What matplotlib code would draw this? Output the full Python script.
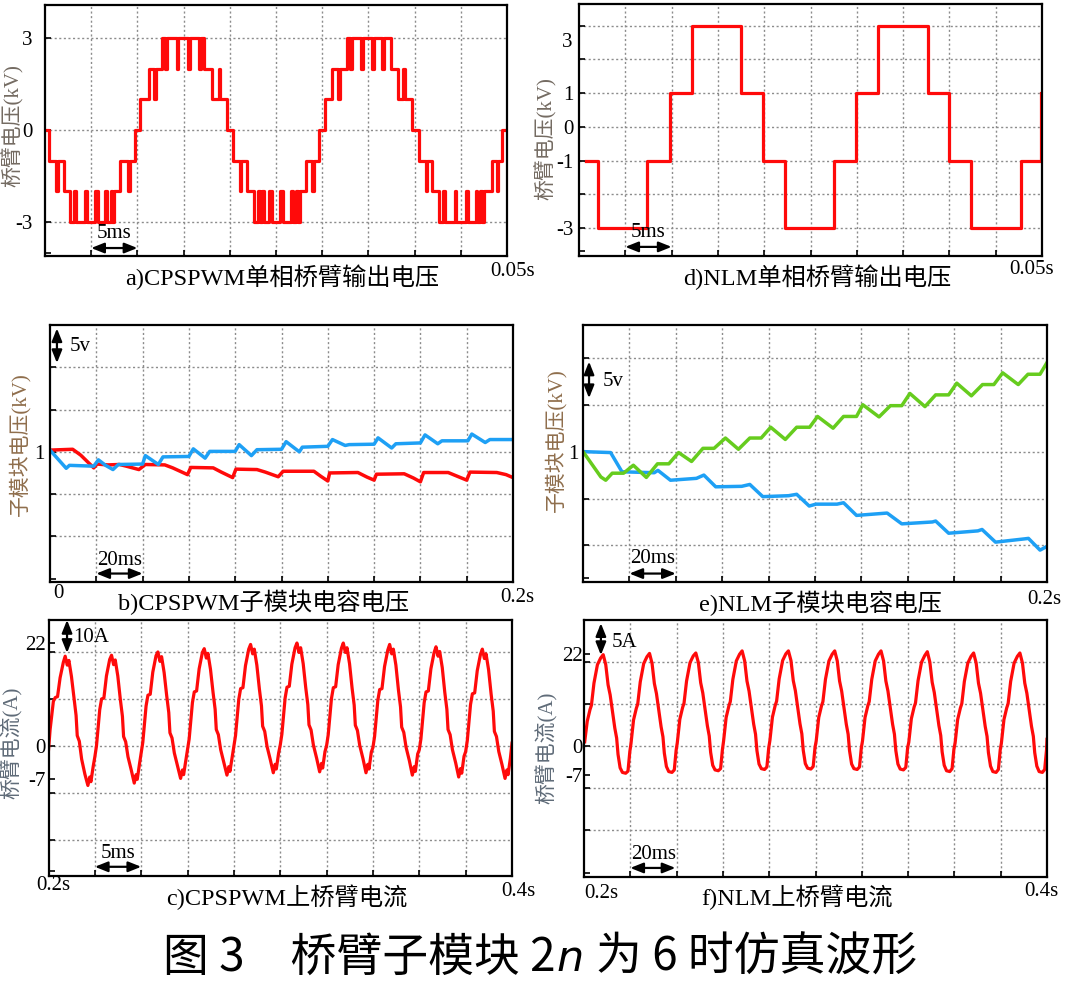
import matplotlib
matplotlib.use("Agg")
import matplotlib.pyplot as plt

# ======================= DATA =======================
# a) CPSPWM single-phase arm output voltage: switching instants (ms) / level (kV)
a_t_ms = [0, 0.45, 1.22, 1.40, 2.03, 2.73, 3.15, 3.36, 4.37, 4.55, 5.45, 5.70, 6.50, 6.71, 7.10, 7.27, 7.45, 8.15, 9.02, 9.20, 9.72,
          10.24, 11.29, 11.82, 11.99, 12.69, 13.04, 13.25, 14.27, 14.44, 15.49, 15.66, 16.71, 16.89, 17.24, 18.11, 18.81, 18.99, 19.69,
          20.38, 21.08, 21.26, 21.89, 22.66, 23.00, 23.25, 23.53, 23.71, 24.23, 24.58, 25.45, 25.80, 26.61, 26.85, 27.13, 27.38, 27.55, 28.25, 28.85, 29.06, 29.65,
          30.35, 31.05, 31.75, 31.92, 32.69, 33.04, 33.25, 34.20, 34.45, 35.42, 35.66, 36.47, 36.71, 37.45, 38.15, 38.74, 38.92, 39.69,
          40.49, 41.19, 41.36, 41.89, 42.69, 43.11, 43.29, 44.34, 44.51, 45.56, 45.73, 46.61, 46.78, 47.13, 47.31, 47.48, 48.36, 48.90, 49.05, 49.45]
a_level_kv = [0, -1, -2, -1, -2, -3, -2, -3, -2, -3, -2, -3, -2, -3, -2, -3, -2, -1, -2, -1, 0,
              1, 2, 1, 2, 3, 2, 3, 2, 3, 2, 3, 2, 3, 2, 1, 2, 1, 0,
              -1, -2, -1, -2, -3, -2, -3, -2, -3, -2, -3, -2, -3, -2, -3, -2, -3, -2, -1, -2, -1, 0,
              1, 2, 1, 2, 3, 2, 3, 2, 3, 2, 3, 2, 3, 2, 1, 2, 1, 0,
              -1, -2, -1, -2, -3, -2, -3, -2, -3, -2, -3, -2, -3, -2, -3, -2, -1, -2, -1, 0]
a_end_ms = 50.0

# d) NLM single-phase arm output voltage
d_t_ms = [0.8, 2.05, 7.39, 9.80, 12.15, 17.48, 19.83, 22.24, 27.58, 29.89, 32.26, 37.64, 40.01, 42.36, 47.69, 49.9]
d_level_kv = [-1, -3, -1, 1, 3, 1, -1, -3, -1, 1, 3, 1, -1, -3, -1, 1]

# b) CPSPWM sub-module capacitor voltage (deviation from 1 kV, in V)
SM_NOMINAL_V = 1000.0
b_blue_t = [0, 7, 8.4, 18.9, 20.9, 24, 27.2, 29.5, 40, 41.2, 46.8, 48.8, 60, 61.9, 67, 69, 80, 81.7, 87, 89.4,
            100, 102, 107.7, 109, 120, 122, 127.5, 129.2, 140, 141.7, 147.6, 149.4, 160, 162, 167.5, 169.3,
            180.5, 182.2, 188, 190, 200]
b_blue_dv = [0.2, -1.95, -1.6, -1.7, -0.95, -1.6, -2.1, -1.5, -1.45, -0.45, -1.5, -0.6, -0.55, 0.35, -0.75, 0.05,
             0.05, 0.85, -0.45, 0.25, 0.3, 1.2, 0.0, 0.55, 0.65, 1.45, 0.75, 0.85, 0.9, 1.65, 0.45, 0.95, 1.05,
             2.0, 0.95, 1.3, 1.3, 2.1, 1.1, 1.45, 1.45]
b_red_t = [0, 9.8, 13.3, 18.9, 20.3, 25, 30, 33, 38.4, 41.2, 49.6, 53, 59.4, 60.8, 70.5, 74, 78.9, 80.3, 89.4, 93,
           98.6, 100.7, 114, 117, 120, 120.8, 133, 137, 140, 141, 153, 157, 160, 161.4, 172, 176, 180, 181.4,
           193, 197, 200]
b_red_dv = [0.2, 0.3, -0.4, -1.9, -1.45, -1.55, -1.5, -1.7, -2.1, -1.5, -1.55, -1.9, -2.7, -1.85, -1.9, -2.4,
            -3.05, -2.05, -2.1, -2.4, -2.95, -2.3, -2.3, -2.9, -3.45, -2.5, -2.45, -3.0, -3.35, -2.65, -2.6,
            -3.1, -3.55, -2.45, -2.45, -2.9, -3.35, -2.4, -2.45, -2.7, -3.05]

# e) NLM sub-module capacitor voltage (deviation from 1 kV, in V)
e_green_t = [0, 7.7, 9.8, 12.6, 17.5, 21.7, 27.3, 32.1, 37, 41.2, 46.8, 51.7, 56.5, 61.4, 67, 71.9, 76.8, 80.9,
             87.2, 92.1, 97.7, 101.1, 107.8, 112.3, 117.9, 120.6, 127.6, 132.5, 137.4, 140.9, 147.4, 152, 157.6,
             161.1, 167.4, 172.2, 177.1, 180.9, 187.6, 191.8, 197, 200]
e_green_dv = [0, -2.7, -3.05, -2.3, -2.3, -1.45, -2.75, -1.3, -1.3, -0.1, -1.05, 0.35, 0.35, 1.45, 0.25, 1.45,
              1.45, 2.6, 1.3, 2.6, 2.6, 3.75, 2.5, 3.75, 3.75, 5.0, 3.7, 4.9, 4.9, 6.2, 4.8, 6.05, 6.05, 7.3,
              5.95, 7.15, 7.15, 8.4, 7.15, 8.25, 8.25, 9.5]
e_blue_t = [0, 11.9, 16.8, 30.7, 32.3, 37.7, 48.9, 52.1, 57.2, 68.4, 71.9, 77.5, 88.6, 92.1, 97.5, 100.4, 109.5,
            112.3, 117.9, 131.1, 137.4, 150.6, 152, 157.6, 170.2, 172, 177.8, 190.4, 192, 197, 200]
e_blue_dv = [0, -0.1, -2.15, -2.25, -2.0, -3.05, -2.85, -2.5, -3.75, -3.7, -3.5, -4.8, -4.7, -4.55, -5.8, -5.6,
             -5.6, -5.45, -6.8, -6.55, -7.7, -7.5, -7.4, -8.7, -8.45, -8.3, -9.65, -9.3, -9.25, -10.5, -10.1]

# c) CPSPWM upper arm current (A): sample phases within each 20 ms cycle
c_cycle_start_ms = [200, 220, 240, 260, 280, 300, 320, 340, 360, 380]
c_phase_ms = [0.0, 0.7, 2.1, 2.9, 3.9, 5.0, 6.4, 7.2, 8.1, 8.8, 9.9, 11.0, 11.9, 12.4, 13.3, 14.3, 15.7, 17.0, 17.8, 18.3, 19.3]
c_cycles_a = [
    [-0.9, 3.5, 9.5, 10.3, 10.5, 14.5, 17.8, 19.1, 17.2, 18.2, 14.8, 10.3, 6.5, 2.2, 1.0, -2.8, -6.0, -8.4, -6.6, -7.6, -4.3],
    [-2.3, 0.0, 7.7, 10.0, 10.2, 14.9, 18.4, 19.3, 17.3, 18.3, 14.9, 9.9, 6.3, 2.0, 0.9, -2.3, -5.1, -7.9, -6.1, -7.1, -3.7],
    [-1.5, 0.8, 8.5, 10.8, 11.0, 15.7, 19.2, 20.0, 18.0, 19.0, 15.6, 10.7, 7.1, 2.8, 1.7, -1.5, -4.3, -6.9, -5.1, -6.1, -2.9],
    [-0.8, 1.5, 9.2, 11.5, 11.7, 16.4, 19.9, 20.7, 18.7, 19.7, 16.3, 11.4, 7.8, 3.5, 2.4, -0.8, -3.6, -6.2, -4.4, -5.4, -2.2],
    [-0.1, 2.2, 9.9, 12.2, 12.4, 17.1, 20.6, 21.6, 19.6, 20.6, 17.2, 12.1, 8.5, 4.2, 3.1, -0.1, -2.9, -5.7, -3.9, -4.9, -1.5],
    [0.2, 2.5, 10.2, 12.5, 12.7, 17.4, 20.9, 21.9, 19.9, 20.9, 17.5, 12.4, 8.8, 4.5, 3.4, 0.2, -2.6, -5.5, -3.7, -4.7, -1.2],
    [0.1, 2.4, 10.1, 12.4, 12.6, 17.3, 20.8, 21.9, 19.9, 20.9, 17.5, 12.3, 8.7, 4.4, 3.3, 0.1, -2.7, -5.7, -3.9, -4.9, -1.3],
    [-0.3, 2.0, 9.7, 12.0, 12.2, 16.9, 20.4, 21.6, 19.6, 20.6, 17.2, 11.9, 8.3, 4.0, 2.9, -0.3, -3.1, -6.2, -4.4, -5.4, -1.7],
    [-0.8, 1.5, 9.2, 11.5, 11.7, 16.4, 19.9, 21.1, 19.1, 20.1, 16.7, 11.4, 7.8, 3.5, 2.4, -0.8, -3.6, -6.6, -4.8, -5.8, -2.2],
    [-1.2, 1.1, 8.8, 11.1, 11.3, 16.0, 19.5, 20.6, 18.6, 19.6, 16.2, 11.0, 7.4, 3.1, 2.0, -1.2, -4.0, -6.9, -5.1, -6.1, -2.6],
]
c_tail_t = [400.0]
c_tail_a = [0.6]

# f) NLM upper arm current (A)
f_cycle_start_ms = [200, 220, 240, 260, 280, 300, 320, 340, 360, 380]
f_phase_ms = [0.3, 1.4, 2.6, 3.2, 4.3, 5.8, 7.2, 8.3, 9.4, 10.4, 11.3, 12.3, 13.3, 14.1, 14.7, 15.6, 16.6, 18.0, 19.0, 19.8]
f_cycles_a = [
    [1.0, 5.9, 8.7, 9.7, 15.0, 19.4, 21.0, 21.8, 19.4, 14.6, 12.2, 8.3, 4.3, 1.9, -2.0, -5.2, -6.3, -6.5, -6.0, -1.3],
    [0.6, 6.2, 9.0, 10.0, 15.3, 19.7, 21.3, 22.1, 19.7, 14.9, 12.5, 8.6, 4.6, 2.2, -1.7, -4.9, -6.1, -6.3, -5.7, -1.0],
    [0.8, 6.4, 9.2, 10.2, 15.5, 19.9, 21.5, 22.2, 19.9, 15.1, 12.7, 8.8, 4.8, 2.4, -1.5, -4.6, -5.7, -5.9, -5.4, -0.8],
    [1.2, 6.8, 9.6, 10.6, 15.9, 20.3, 21.9, 22.7, 20.3, 15.5, 13.1, 9.2, 5.2, 2.8, -1.1, -4.3, -5.4, -5.6, -5.0, -0.4],
    [1.3, 6.9, 9.7, 10.7, 16.0, 20.4, 22.0, 22.7, 20.4, 15.6, 13.2, 9.3, 5.3, 2.9, -1.0, -4.2, -5.3, -5.5, -4.9, -0.3],
    [1.2, 6.8, 9.6, 10.6, 15.9, 20.3, 21.9, 22.7, 20.3, 15.5, 13.1, 9.2, 5.2, 2.8, -1.1, -4.3, -5.4, -5.6, -5.0, -0.4],
    [1.2, 6.8, 9.6, 10.6, 15.9, 20.3, 21.9, 22.7, 20.3, 15.5, 13.1, 9.2, 5.2, 2.8, -1.1, -4.3, -5.5, -5.7, -5.1, -0.4],
    [0.9, 6.5, 9.3, 10.3, 15.6, 20.0, 21.6, 22.5, 20.0, 15.2, 12.8, 8.9, 4.9, 2.5, -1.4, -4.6, -5.9, -6.1, -5.4, -0.7],
    [0.7, 6.3, 9.1, 10.1, 15.4, 19.8, 21.4, 22.2, 19.8, 15.0, 12.6, 8.7, 4.7, 2.3, -1.6, -4.8, -6.1, -6.3, -5.6, -0.9],
    [0.7, 6.3, 9.1, 10.1, 15.4, 19.8, 21.4, 22.2, 19.8, 15.0, 12.6, 8.7, 4.7, 2.3, -1.6, -4.8, -6.1, -6.3, -5.6, -0.9],
]
f_tail_t = [400.0]
f_tail_a = [1.6]

# ======================= STYLE =======================
W, H = 1080, 982
fig = plt.figure(figsize=(W / 100, H / 100), dpi=100)
fig.patch.set_facecolor("white")

SERIF = ["Liberation Serif", "Noto Sans CJK SC"]
CJK = ["Noto Sans CJK SC", "DejaVu Sans"]
RED = "#ff0a0a"
BLUE = "#1ea0f5"
GREEN = "#66cc1e"
GRID = dict(color="#8c8c8c", lw=1.0, ls=(0, (1.5, 1.8)), zorder=1)
TICKFS = 15


def add_axes(l, t, r, b):
    return fig.add_axes([l / W, 1 - b / H, (r - l) / W, (b - t) / H])


def ftext(x, y, s, **kw):
    kw.setdefault("family", SERIF)
    kw.setdefault("ha", "center")
    kw.setdefault("va", "center")
    return fig.text(x / W, 1 - y / H, s, **kw)


def frame(ax, xlim, ylim, xgrid, ygrid, yticks, ylabels, yminor, ypad):
    ax.set_xlim(*xlim)
    ax.set_ylim(*ylim)
    for x in xgrid:
        ax.axvline(x, **GRID)
    for y in ygrid:
        ax.axhline(y, **GRID)
    ax.set_xticks(xgrid)
    ax.set_xticklabels([])
    ax.set_yticks(yticks)
    ax.set_yticklabels(ylabels, fontfamily=SERIF, fontsize=TICKFS)
    ax.set_yticks(yminor, minor=True)
    ax.tick_params(axis="both", which="both", direction="in", length=4, width=1.2)
    ax.tick_params(axis="y", pad=ypad)
    for s in ax.spines.values():
        s.set_linewidth(1.6)
        s.set_zorder(5)


def darrow(ax, p1, p2):
    ax.annotate("", xy=p2, xytext=p1, annotation_clip=False,
                arrowprops=dict(arrowstyle="<|-|>,head_length=0.55,head_width=0.22",
                                color="black", lw=1.6, mutation_scale=14,
                                shrinkA=0, shrinkB=0), zorder=6)


def atext(ax, x, y, s, **kw):
    kw.setdefault("ha", "center")
    kw.setdefault("va", "center")
    ax.text(x, y, s, family=SERIF, fontsize=15, zorder=6, **kw)


# ---------------- a ----------------
ax = add_axes(45, 5, 507, 256)
frame(ax, (0, 50), (-4.11, 4.08), [5, 10, 15, 20, 25, 30, 35, 40, 45], [3, 0, -3],
      [3, 0, -3], ["3", "0", "-3"], [-4], 9)
ax.step(a_t_ms + [a_end_ms], a_level_kv + [a_level_kv[-1]], where="post", color=RED, lw=2.3, zorder=3)
darrow(ax, (5, -3.85), (10, -3.85))
atext(ax, 7.5, -3.36, "5ms")

# ---------------- d ----------------
ax = add_axes(579, 4, 1042, 256)
frame(ax, (0, 50), (-3.83, 3.64), [5, 10, 15, 20, 25, 30, 35, 40, 45], [3, 2, 1, 0, -1, -2, -3],
      [1, 0, -1, -3], ["1", "0", "-1", "-3"], [3, 2, -2, -3.68], 4)
ax.text(-0.014, 2.5, "3", transform=ax.get_yaxis_transform(), family=SERIF, fontsize=TICKFS,
        ha="right", va="center")
ax.step(d_t_ms, d_level_kv, where="post", color=RED, lw=2.3, zorder=3)
darrow(ax, (5, -3.56), (10, -3.56))
atext(ax, 7.5, -3.12, "5ms")

# ---------------- b ----------------
ax = add_axes(50, 325, 513, 582)
frame(ax, (0, 200), (984.6, 1015.0), [20, 40, 60, 80, 100, 120, 140, 160, 180], [990, 995, 1000, 1005, 1010],
      [1000], ["1"], [990, 995, 1005, 1010, 985], 4)
ax.plot(b_red_t, [SM_NOMINAL_V + v for v in b_red_dv], color=RED, lw=2.5, zorder=3)
ax.plot(b_blue_t, [SM_NOMINAL_V + v for v in b_blue_dv], color=BLUE, lw=2.5, zorder=4)
darrow(ax, (3, 1014.6), (3, 1010.5))
atext(ax, 8.6, 1012.4, "5v", ha="left")
darrow(ax, (20, 985.6), (40, 985.6))
atext(ax, 30, 987.2, "20ms")

# ---------------- e ----------------
ax = add_axes(583, 325, 1047, 582)
frame(ax, (0, 200), (986.1, 1013.5), [20, 40, 60, 80, 100, 120, 140, 160, 180], [990, 995, 1000, 1005, 1010],
      [1000], ["1"], [990, 995, 1005, 1010, 986.5], 3)
ax.plot(e_blue_t, [SM_NOMINAL_V + v for v in e_blue_dv], color=BLUE, lw=2.5, zorder=3)
ax.plot(e_green_t, [SM_NOMINAL_V + v for v in e_green_dv], color=GREEN, lw=2.5, zorder=4)
darrow(ax, (2.6, 1009.6), (2.6, 1005.7))
atext(ax, 8.6, 1007.45, "5v", ha="left")
darrow(ax, (20, 987.0), (40, 987.0))
atext(ax, 30, 988.6, "20ms")

# ---------------- c ----------------
ax = add_axes(48.5, 620, 512, 876)
frame(ax, (200, 400), (-27.66, 26.8), [220, 240, 260, 280, 300, 320, 340, 360, 380], [20, 10, 0, -10, -20],
      [22, 0, -7], ["22", "0", "-7"], [20, 10, -10, -20, -26.7], 2)
c_t, c_i = [], []
for start, vals in zip(c_cycle_start_ms, c_cycles_a):
    c_t += [start + p for p in c_phase_ms]
    c_i += vals
c_t += c_tail_t
c_i += c_tail_a
ax.plot(c_t, c_i, color=RED, lw=2.3, zorder=3)
darrow(ax, (208, 26.8), (208, 19.8))
atext(ax, 210.6, 23.0, "10A", ha="left")
darrow(ax, (220, -25.7), (240, -25.7))
atext(ax, 230, -22.8, "5ms")

# ---------------- f ----------------
ax = add_axes(584, 620, 1047, 877)
frame(ax, (200, 400), (-31.26, 30.07), [220, 240, 260, 280, 300, 320, 340, 360, 380], [20, 10, 0, -10, -20],
      [22, 0, -7], ["22", "0", "-7"], [20, 10, -10, -20, -30.4], 1)
f_t, f_i = [], []
for start, vals in zip(f_cycle_start_ms, f_cycles_a):
    f_t += [start + p for p in f_phase_ms]
    f_i += vals
f_t += f_tail_t
f_i += f_tail_a
ax.plot(f_t, f_i, color=RED, lw=2.3, zorder=3)
darrow(ax, (207.3, 29.3), (207.3, 21.7))
atext(ax, 212.1, 24.8, "5A", ha="left")
darrow(ax, (220, -29.1), (239.5, -29.1))
atext(ax, 230, -26.0, "20ms")

# ---------------- y labels ----------------
YL = 15
ftext(13, 126, "桥臂电压(kV)", rotation=90, fontsize=YL, color="#746b62")
ftext(546, 139, "桥臂电压(kV)", rotation=90, fontsize=YL, color="#746b62")
ftext(20, 444, "子模块电压(kV)", rotation=90, fontsize=YL, color="#8f6e4c")
ftext(556, 440, "子模块电压(kV)", rotation=90, fontsize=YL, color="#8f6e4c")
ftext(12, 743, "桥臂电流(A)", rotation=90, fontsize=YL, color="#5f6b78")
ftext(547, 748, "桥臂电流(A)", rotation=90, fontsize=YL, color="#5f6b78")

# ---------------- captions & axis end labels ----------------
CAP = 17.5
ftext(282, 277, "a)CPSPWM单相桥臂输出电压", fontsize=CAP)
ftext(817, 277, "d)NLM单相桥臂输出电压", fontsize=CAP)
ftext(264, 602, "b)CPSPWM子模块电容电压", fontsize=CAP)
ftext(820, 603, "e)NLM子模块电容电压", fontsize=CAP)
ftext(287, 897, "c)CPSPWM上桥臂电流", fontsize=CAP)
ftext(797, 897, "f)NLM上桥臂电流", fontsize=CAP)

ftext(513, 272, "0.05s", fontsize=TICKFS)
ftext(1032, 270, "0.05s", fontsize=TICKFS)
ftext(58, 593, "0", fontsize=TICKFS)
ftext(517, 598, "0.2s", fontsize=TICKFS)
ftext(1044, 600, "0.2s", fontsize=TICKFS)
ftext(53, 886, "0.2s", fontsize=TICKFS)
ftext(518, 892, "0.4s", fontsize=TICKFS)
ftext(601, 893, "0.2s", fontsize=TICKFS)
ftext(1041, 892, "0.4s", fontsize=TICKFS)

# ---------------- figure title ----------------
renderer = fig.canvas.get_renderer()
base_y = 1 - 971 / H
t1 = fig.text(163 / W, base_y, "图 3\u3000桥臂子模块 2", family=CJK, fontsize=33, va="baseline", ha="left")
bb = t1.get_window_extent(renderer)
t2 = fig.text((bb.x1 + 1) / W, base_y, "n", family="DejaVu Sans", style="italic", fontsize=31,
              va="baseline", ha="left")
bb2 = t2.get_window_extent(renderer)
t3 = fig.text((bb2.x1 + 12) / W, base_y, "为 6 时仿真波形", family=CJK, fontsize=33, va="baseline", ha="left")

fig.savefig("out.png", dpi=100, facecolor="white")
